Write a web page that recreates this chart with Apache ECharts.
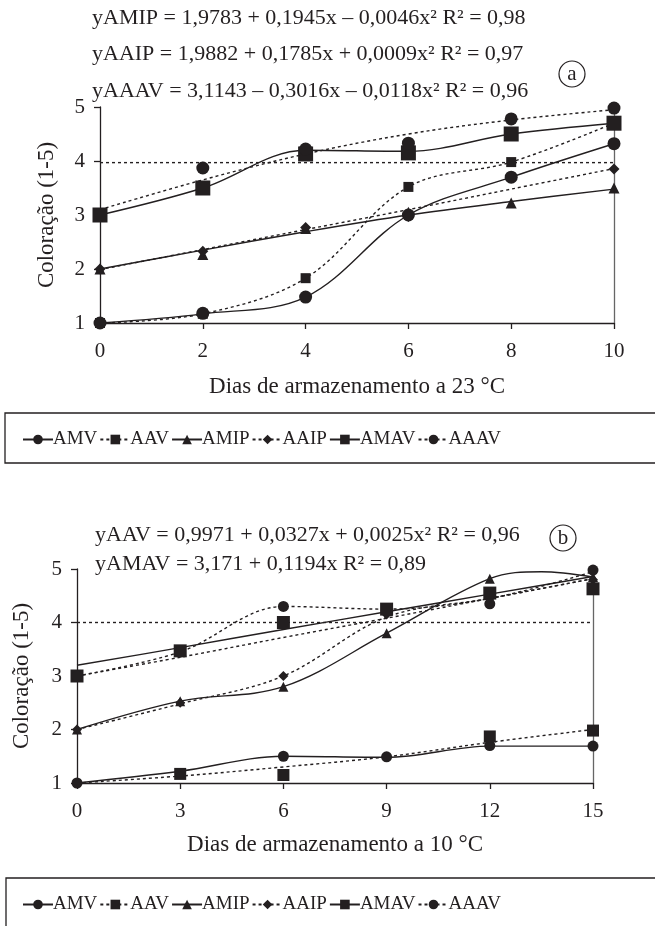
<!DOCTYPE html>
<html><head><meta charset="utf-8">
<script src="https://cdn.jsdelivr.net/npm/echarts@6/dist/echarts.min.js"></script>
<style>html,body{margin:0;padding:0;background:#fff}#c{width:655px;height:926px}</style>
</head><body><div id="c"></div>
<script>
// ---- data ----
const daysA = [0, 2, 4, 6, 8, 10];
const daysB = [0, 3, 6, 9, 12, 15];
const seriesNames = ['AMV', 'AAV', 'AMIP', 'AAIP', 'AMAV', 'AAAV'];
const yTicks = [1, 2, 3, 4, 5];

// chart (a) measured points
const amvPtsA  = [1.0, 1.18, 1.48, 3.0, 3.7, 4.32];
const aavPtsA  = [1.0, 1.17, 1.83, 3.52, 3.98, 4.7];
const amipPtsA = [2.0, 2.27, 2.75, 3.05, 3.22, 3.5];
const aaipPtsA = [2.0, 2.33, 2.77, 2.97, null, 3.85];
const amavPtsA = [3.0, 3.5, 4.13, 4.15, 4.5, 4.7];
const aaavPtsA = [null, 3.87, 4.22, 4.33, 4.78, 4.98];
// chart (a) curves
const amvCurveA  = [1.0, 1.17, 1.48, 3.0, 3.7, 4.32];
const aavCurveA  = [1.0, 1.17, 1.83, 3.52, 3.98, 4.7];
const amipCurveA = [2.0, 2.35, 2.69, 3.0, 3.25, 3.48];
const aaipCurveA = [1.99, 2.36, 2.73, 3.1, 3.48, 3.86];
const amavCurveA = [3.0, 3.5, 4.2, 4.18, 4.5, 4.7];
const aaavCurveA = [3.1, 3.65, 4.13, 4.5, 4.76, 4.95];
const refA = [3.97];

// chart (b) measured points
const amvPtsB  = [1.0, null, 1.5, 1.49, 1.7, 1.69];
const aavPtsB  = [null, 1.17, 1.15, null, 1.87, 1.98];
const amipPtsB = [2.0, 2.53, 2.8, 3.8, 4.82, 4.85];
const aaipPtsB = [2.0, 2.5, 3.0, 4.15, 4.45, 4.8];
const amavPtsB = [3.0, 3.47, 4.0, 4.25, 4.55, 4.63];
const aaavPtsB = [3.0, 3.45, 4.3, null, 4.35, 4.98];
// chart (b) curves
const amvCurveB  = [1.0, 1.22, 1.5, 1.48, 1.69, 1.69];
const aavCurveB  = [1.0, 1.13, 1.3, 1.49, 1.76, 2.0];
const amipCurveDaysB = [0, 3, 6, 9, 12, 13.5, 15];
const amipCurveB = [2.0, 2.53, 2.8, 3.8, 4.82, 4.95, 4.85];
const aaipCurveB = [2.0, 2.48, 3.0, 4.1, 4.45, 4.82];
const amavCurveB = [3.2, 3.53, 3.87, 4.2, 4.53, 4.86];
const aaavCurveB = [3.0, 3.45, 4.3, 4.25, 4.45, 4.95];
const aaavTrendB = [3.0, 3.35, 3.72, 4.08, 4.45, 4.82];
const refB = [4];

const eqA = ['yAMIP = 1,9783 + 0,1945x \u2013 0,0046x\u00b2 R\u00b2 = 0,98',
             'yAAIP = 1,9882 + 0,1785x + 0,0009x\u00b2 R\u00b2 = 0,97',
             'yAAAV = 3,1143 \u2013 0,3016x \u2013 0,0118x\u00b2 R\u00b2 = 0,96'];
const eqB = ['yAAV = 0,9971 + 0,0327x + 0,0025x\u00b2 R\u00b2 = 0,96',
             'yAMAV = 3,171 + 0,1194x R\u00b2 = 0,89'];
const xNameA = 'Dias de armazenamento a 23 \u00b0C';
const xNameB = 'Dias de armazenamento a 10 \u00b0C';
const yName = 'Coloração (1-5)';

// ---- styles ----
const INK = '#231f20';
const FONT = 'Liberation Serif';
const styleMap = {
  AMV:  {dash: 'solid', symbol: 'circle',  size: 13},
  AAV:  {dash: [3, 3],  symbol: 'rect',    size: 10},
  AMIP: {dash: 'solid', symbol: 'triangle',size: 11},
  AAIP: {dash: [3, 3],  symbol: 'diamond', size: 11},
  AMAV: {dash: 'solid', symbol: 'rect',    size: 15},
  AAAV: {dash: [3, 3],  symbol: 'circle',  size: 13}
};
const zip = (xs, ys) => xs.map((x, i) => [x, ys[i]]);

function curve(name, idx, xs, ys) {
  const s = styleMap[name];
  return {
    type: 'line', name: name, xAxisIndex: idx, yAxisIndex: idx * 2,
    data: zip(xs, ys), smooth: 0.35, showSymbol: false,
    symbol: s.symbol, symbolSize: s.size,
    itemStyle: {color: INK},
    lineStyle: {color: INK, width: 1.4, type: s.dash},
    silent: true, z: 2
  };
}
function pts(name, idx, xs, ys, size) {
  const s = styleMap[name];
  return {
    type: 'scatter', name: name, xAxisIndex: idx, yAxisIndex: idx * 2,
    data: zip(xs, ys).filter(p => p[1] != null),
    symbol: s.symbol, symbolSize: size || s.size,
    itemStyle: {color: INK, opacity: 1},
    silent: true, z: 3
  };
}

const curvesA = [amvCurveA, aavCurveA, amipCurveA, aaipCurveA, amavCurveA, aaavCurveA];
const ptsA = [amvPtsA, aavPtsA, amipPtsA, aaipPtsA, amavPtsA, aaavPtsA];
const curvesB = [amvCurveB, aavCurveB, amipCurveB, aaipCurveB, amavCurveB, aaavCurveB];
const curveDaysB = [daysB, daysB, amipCurveDaysB, daysB, daysB, daysB];
const ptsB = [amvPtsB, aavPtsB, amipPtsB, aaipPtsB, amavPtsB, aaavPtsB];
const sizesB = [11, 12, 10, 10, 13, 11];

const series = [];
seriesNames.forEach((n, i) => series.push(curve(n, 0, daysA, curvesA[i])));
seriesNames.forEach((n, i) => series.push(curve(n, 1, curveDaysB[i], curvesB[i])));
series.push(curve('AAAV', 1, daysB, aaavTrendB));
seriesNames.forEach((n, i) => series.push(pts(n, 0, daysA, ptsA[i])));
seriesNames.forEach((n, i) => series.push(pts(n, 1, daysB, ptsB[i], sizesB[i])));
function refSeries(idx, xs, val) {
  return {
    type: 'line', name: 'ref' + idx, xAxisIndex: idx, yAxisIndex: idx * 2,
    data: [[xs[0], val], [xs[xs.length - 1], val]], showSymbol: false, symbol: 'none',
    lineStyle: {color: INK, width: 1.4, type: [3, 3]}, silent: true, z: 1
  };
}
series.push(refSeries(0, daysA, refA[0]));
series.push(refSeries(1, daysB, refB[0]));

function xAxis(idx, xs, name, gap) {
  return {
    type: 'value', gridIndex: idx, min: xs[0], max: xs[xs.length - 1], interval: xs[1] - xs[0],
    name: name, nameLocation: 'middle', nameGap: gap,
    nameTextStyle: {fontFamily: FONT, fontSize: 23, color: INK},
    axisLine: {lineStyle: {color: INK, width: 1.3}},
    axisTick: {show: true, length: 6, lineStyle: {color: INK, width: 1.3}},
    axisLabel: {fontFamily: FONT, fontSize: 21, color: INK, margin: 18},
    splitLine: {show: false}
  };
}
function yAxes(idx, gap) {
  return [{
    type: 'value', gridIndex: idx, min: yTicks[0], max: yTicks[yTicks.length - 1], interval: 1,
    name: yName, nameLocation: 'middle', nameGap: gap, nameRotate: 90,
    nameTextStyle: {fontFamily: FONT, fontSize: 23, color: INK},
    axisLine: {show: true, lineStyle: {color: INK, width: 1.3}},
    axisTick: {show: true, length: 6, lineStyle: {color: INK, width: 1.3}},
    axisLabel: {fontFamily: FONT, fontSize: 21, color: INK, margin: 15},
    splitLine: {show: false}
  }, {
    type: 'value', gridIndex: idx, position: 'right', min: yTicks[0], max: yTicks[yTicks.length - 1],
    interval: 1,
    axisLine: {show: true, lineStyle: {color: '#666', width: 1.3}},
    axisTick: {show: false}, axisLabel: {show: false}, splitLine: {show: false}
  }];
}

function legend(top) {
  return {
    data: seriesNames, left: 17, top: top, orient: 'horizontal',
    itemWidth: 30, itemHeight: 12, itemGap: 2, selectedMode: false,
    textStyle: {fontFamily: FONT, fontSize: 19, color: INK, padding: [0, 0, 0, -5]}
  };
}

function eqText(lines, x, ys) {
  return lines.map((t, i) => ({
    type: 'text', x: x, y: ys[i],
    style: {text: t, font: '22px "' + FONT + '"', fill: INK, textVerticalAlign: 'middle'}
  }));
}
function circLabel(cx, cy, t) {
  return [{type: 'circle', shape: {cx: cx, cy: cy, r: 13}, style: {fill: 'none', stroke: INK, lineWidth: 1.2}},
          {type: 'text', x: cx, y: cy, style: {text: t, font: '21px "' + FONT + '"', fill: INK,
           textAlign: 'center', textVerticalAlign: 'middle'}}];
}

const graphic = [].concat(
  eqText(eqA, 92, [18, 54, 91]),
  eqText(eqB, 95, [535, 564]),
  circLabel(572, 74, 'a'),
  circLabel(563, 538, 'b'),
  [{type: 'rect', shape: {x: 5, y: 413, width: 700, height: 50}, style: {fill: 'none', stroke: INK, lineWidth: 1.3}},
   {type: 'rect', shape: {x: 6, y: 878, width: 700, height: 80}, style: {fill: 'none', stroke: INK, lineWidth: 1.3}}]
);

const chart = echarts.init(document.getElementById('c'), null, {renderer: 'canvas'});
chart.setOption({
  animation: false,
  backgroundColor: '#fff',
  grid: [
    {left: 100, width: 514, top: 107, height: 216},
    {left: 77, width: 516, top: 569, height: 214}
  ],
  xAxis: [xAxis(0, daysA, xNameA, 52), xAxis(1, daysB, xNameB, 50)],
  yAxis: [].concat(yAxes(0, 42), yAxes(1, 44)),
  legend: [legend(425), legend(890)],
  graphic: graphic,
  series: series
});
</script></body></html>
